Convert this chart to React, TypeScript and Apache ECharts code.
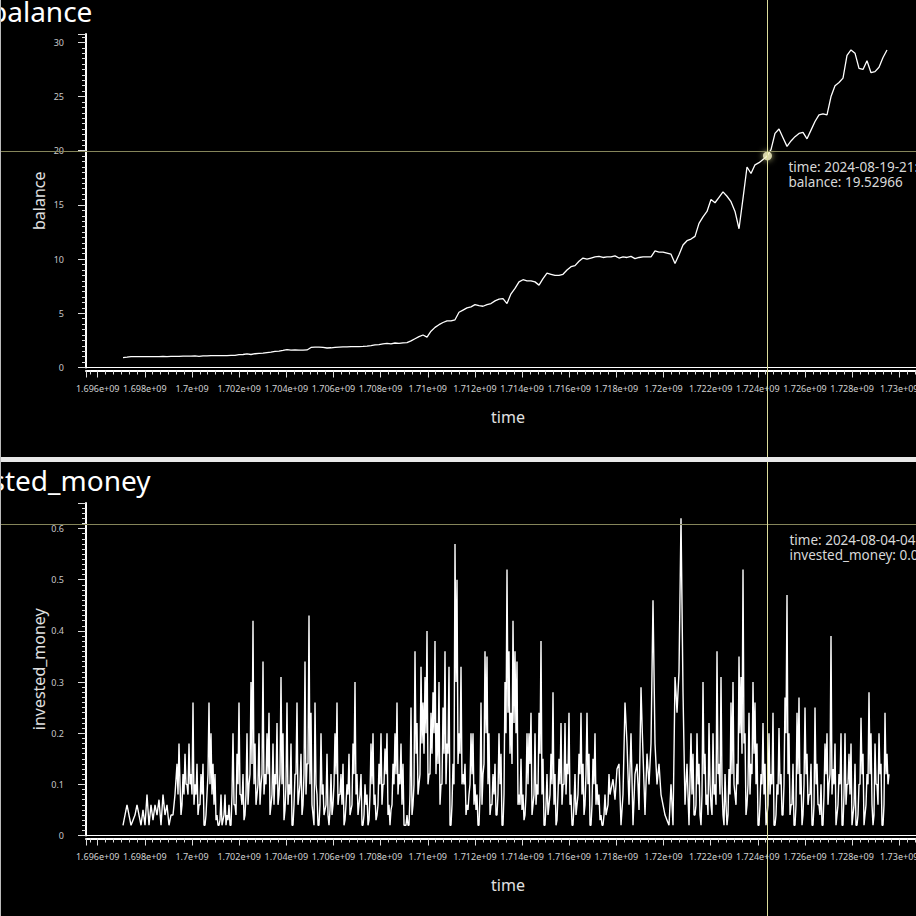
import React, { useEffect, useRef } from "react";
import * as echarts from "echarts";

// ---- data ----
const T0 = 1697073200; // first sample time (unix seconds)
const BALANCE_STEP = 169671; // seconds between balance samples
const INVESTED_STEP = 84836; // seconds between main invested_money samples

const balance = [
  0.92, 0.95, 1.0, 1.0, 1.0, 1.0, 1.0, 1.0, 1.0, 1.0,
  1.02, 1.0, 1.02, 1.02, 1.03, 1.05, 1.05, 1.05, 1.08, 1.03,
  1.08, 1.08, 1.1, 1.1, 1.1, 1.1, 1.1, 1.12, 1.12, 1.18,
  1.2, 1.25, 1.2, 1.27, 1.3, 1.32, 1.38, 1.42, 1.48, 1.52,
  1.58, 1.65, 1.6, 1.62, 1.6, 1.6, 1.62, 1.85, 1.88, 1.88,
  1.85, 1.8, 1.82, 1.85, 1.88, 1.9, 1.9, 1.92, 1.92, 1.93,
  1.95, 1.98, 2.02, 2.08, 2.12, 2.18, 2.22, 2.18, 2.26, 2.22,
  2.28, 2.3, 2.45, 2.65, 2.85, 3.0, 2.8, 3.35, 3.7, 3.95,
  4.15, 4.3, 4.3, 4.4, 5.1, 5.3, 5.5, 5.6, 5.8, 5.7,
  5.65, 5.8, 5.9, 6.15, 6.3, 6.35, 5.9, 6.8, 7.3, 7.9,
  8.1, 8.0, 8.0, 7.9, 7.6, 8.2, 8.7, 8.6, 8.5, 8.5,
  8.6, 9.0, 9.3, 9.4, 9.8, 10.1, 10.0, 10.1, 10.2, 10.25,
  10.15, 10.2, 10.2, 10.3, 10.1, 10.2, 10.15, 10.25, 10.05, 10.15,
  10.2, 10.2, 10.2, 10.75, 10.65, 10.65, 10.55, 10.45, 9.6, 10.4,
  11.3, 11.7, 11.85, 12.1, 13.3, 13.9, 14.4, 15.5, 15.2, 15.7,
  16.2, 15.8, 15.3, 14.4, 12.8, 15.6, 18.5, 17.9, 18.7, 18.9,
  19.2, 19.5, 20.1, 21.6, 22.0, 21.2, 20.4, 20.9, 21.3, 21.6,
  21.7, 21.1, 21.9, 22.7, 23.3, 23.4, 23.3, 25.0, 26.0, 26.3,
  26.7, 28.8, 29.3, 29.0, 27.6, 27.5, 28.3, 27.2, 27.3, 27.7,
  28.6, 29.3,
];

// invested_money at the main sample times
const investedMoney = [
  0.02, 0.04, 0.06, 0.04, 0.02, 0.03, 0.04, 0.06, 0.04, 0.02, 0.05, 0.02, 0.08, 0.02,
  0.06, 0.03, 0.06, 0.04, 0.07, 0.02, 0.08, 0.04, 0.06, 0.02, 0.04, 0.04, 0.08,
  0.14, 0.18, 0.04, 0.12, 0.16, 0.1, 0.18, 0.12, 0.26, 0.1, 0.14, 0.06, 0.12, 0.14,
  0.02, 0.08, 0.26, 0.2, 0.14, 0.12, 0.04, 0.02, 0.08, 0.03, 0.08, 0.04, 0.06, 0.02,
  0.2, 0.06, 0.16, 0.26, 0.08, 0.12, 0.04, 0.2, 0.1, 0.3, 0.42, 0.18, 0.08, 0.2, 0.1,
  0.34, 0.12, 0.2, 0.24, 0.06, 0.18, 0.12, 0.22, 0.08, 0.31, 0.2, 0.05, 0.26, 0.1, 0.18,
  0.02, 0.12, 0.26, 0.08, 0.16, 0.06, 0.34, 0.14, 0.43,
  0.24, 0.04, 0.26, 0.08, 0.02, 0.2, 0.1, 0.05, 0.16, 0.02, 0.12, 0.06, 0.2, 0.26, 0.08,
  0.12, 0.14, 0.03, 0.1, 0.16, 0.05, 0.18, 0.3, 0.12, 0.06, 0.12, 0.02, 0.1, 0.08, 0.03,
  0.18, 0.2, 0.08, 0.04, 0.14, 0.2, 0.1, 0.17, 0.2, 0.06, 0.05, 0.14, 0.2, 0.26, 0.12,
  0.18, 0.14, 0.02, 0.04, 0.02,
  0.25, 0.06, 0.36, 0.22, 0.1, 0.33, 0.26, 0.31, 0.4, 0.12, 0.24, 0.28, 0.38, 0.22, 0.3,
  0.1, 0.25, 0.36, 0.18, 0.33, 0.02, 0.14, 0.57, 0.5, 0.2, 0.33, 0.12, 0.14, 0.06, 0.08,
  0.2, 0.2, 0.1, 0.08, 0.02, 0.26, 0.12, 0.36, 0.35, 0.2, 0.06, 0.12, 0.14, 0.04, 0.2,
  0.16, 0.02, 0.3, 0.52, 0.36,
  0.24, 0.42, 0.36, 0.34, 0.08, 0.15, 0.08, 0.04, 0.2, 0.2, 0.24, 0.06, 0.2, 0.1, 0.24,
  0.38, 0.15, 0.02, 0.12, 0.06, 0.16, 0.28, 0.12, 0.03, 0.15, 0.22, 0.1, 0.22, 0.14, 0.24,
  0.08, 0.02, 0.12, 0.06, 0.16, 0.24, 0.14, 0.06, 0.24, 0.16, 0.02, 0.15, 0.2, 0.1, 0.08,
  0.04, 0.02, 0.08, 0.05, 0.12,
  0.09, 0.11, 0.07, 0.13, 0.14, 0.02, 0.08, 0.26, 0.18, 0.06, 0.2, 0.02, 0.12, 0.14, 0.05,
  0.29, 0.16, 0.04, 0.16, 0.1, 0.18, 0.46, 0.18, 0.1, 0.14, 0.08, 0.06, 0.04, 0.03, 0.02,
  0.1, 0.02, 0.31, 0.24, 0.32, 0.62, 0.28, 0.06, 0.14, 0.02, 0.2, 0.16, 0.04, 0.2, 0.14,
  0.02, 0.3, 0.16, 0.08, 0.22,
  0.06, 0.2, 0.1, 0.36, 0.14, 0.31, 0.04, 0.12, 0.02, 0.13, 0.26, 0.3, 0.08, 0.14, 0.35,
  0.31, 0.52, 0.2, 0.06, 0.24, 0.14, 0.3, 0.26, 0.18, 0.02, 0.12, 0.22, 0.14, 0.04, 0.2,
  0.12, 0.24, 0.02, 0.1, 0.21, 0.12, 0.04, 0.27, 0.47, 0.2, 0.06, 0.14, 0.02, 0.24, 0.27,
  0.12, 0.04, 0.25, 0.16, 0.08,
  0.14, 0.02, 0.25, 0.14, 0.06, 0.1, 0.02, 0.18, 0.2, 0.1, 0.39, 0.13, 0.18, 0.04, 0.12,
  0.2, 0.02, 0.2, 0.1, 0.16, 0.18, 0.04, 0.14, 0.02, 0.1, 0.23, 0.16, 0.04, 0.12, 0.28,
  0.2, 0.02, 0.18, 0.1, 0.2, 0.14, 0.02, 0.24, 0.16, 0.12,
];

// invested_money at the half-step samples (the dips between main samples)
const investedMoneyHalf = [
  0.03, 0.05, 0.05, 0.03, 0.025, 0.035, 0.05, 0.05, 0.03, 0.035, 0.035, 0.05, 0.05, 0.04,
  0.045, 0.045, 0.05, 0.055, 0.045, 0.05, 0.06, 0.05, 0.04, 0.03, 0.04, 0.06, 0.11,
  0.08, 0.1, 0.06, 0.08, 0.1, 0.08, 0.1, 0.08, 0.06, 0.08, 0.04, 0.06, 0.08, 0.02,
  0.04, 0.12, 0.1, 0.08, 0.06, 0.03, 0.02, 0.03, 0.02, 0.04, 0.02, 0.03, 0.02, 0.08,
  0.06, 0.04, 0.1, 0.08, 0.06, 0.03, 0.08, 0.06, 0.12, 0.14, 0.1, 0.06, 0.1, 0.06, 0.12,
  0.08, 0.1, 0.12, 0.04, 0.08, 0.06, 0.1, 0.06, 0.12, 0.1, 0.03, 0.1, 0.06, 0.08, 0.02,
  0.06, 0.12, 0.06, 0.1, 0.04, 0.12, 0.08, 0.14, 0.1,
  0.06, 0.02, 0.1, 0.02, 0.06, 0.08, 0.04, 0.06, 0.04, 0.05,
  0.04, 0.1, 0.12, 0.06, 0.08, 0.06, 0.02, 0.06, 0.08, 0.04,
  0.06, 0.12, 0.08, 0.04, 0.08, 0.02, 0.04, 0.06, 0.02, 0.08,
  0.1, 0.06, 0.03, 0.06, 0.1, 0.06, 0.1, 0.12, 0.04, 0.02,
  0.06, 0.1, 0.12, 0.08, 0.1, 0.06, 0.02, 0.02, 0.02, 0.08,
  0.04, 0.1, 0.16, 0.08, 0.12, 0.18, 0.16, 0.2, 0.1, 0.12,
  0.16, 0.2, 0.12, 0.14, 0.06, 0.1, 0.16, 0.1, 0.16, 0.02,
  0.06, 0.1, 0.3, 0.14, 0.16, 0.1, 0.1, 0.04, 0.05, 0.1,
  0.12, 0.06, 0.05, 0.02, 0.08, 0.06, 0.14, 0.2, 0.1, 0.04,
  0.06, 0.08, 0.04, 0.08, 0.1, 0.02, 0.08, 0.2, 0.24, 0.16,
  0.14, 0.22, 0.2, 0.06, 0.06, 0.05, 0.03, 0.08, 0.1, 0.14,
  0.04, 0.08, 0.06, 0.08, 0.16, 0.08, 0.02, 0.06, 0.04, 0.08,
  0.1, 0.06, 0.02, 0.08, 0.1, 0.06, 0.1, 0.08, 0.12, 0.06,
  0.02, 0.06, 0.04, 0.08, 0.12, 0.08, 0.04, 0.12, 0.1, 0.02,
  0.06, 0.1, 0.06, 0.06, 0.03, 0.02, 0.04, 0.04, 0.06, 0.08,
  0.1, 0.09, 0.1, 0.135, 0.08, 0.05, 0.17, 0.22, 0.12, 0.13,
  0.11, 0.07, 0.13, 0.1, 0.17, 0.22, 0.1, 0.1, 0.13, 0.14,
  0.32, 0.32, 0.14, 0.12, 0.11, 0.07, 0.05, 0.035, 0.025, 0.06,
  0.06, 0.16, 0.28, 0.28, 0.47, 0.45, 0.17, 0.1, 0.08, 0.11,
  0.08, 0.04, 0.06, 0.1, 0.04, 0.08, 0.12, 0.06, 0.04, 0.1,
  0.04, 0.08, 0.06, 0.12, 0.08, 0.1, 0.02, 0.06, 0.04, 0.08,
  0.12, 0.1, 0.06, 0.1, 0.2, 0.16, 0.18, 0.04, 0.1, 0.08,
  0.12, 0.16, 0.1, 0.02, 0.06, 0.1, 0.08, 0.02, 0.06, 0.08,
  0.1, 0.02, 0.04, 0.08, 0.1, 0.04, 0.1, 0.2, 0.12, 0.04,
  0.06, 0.02, 0.06, 0.12, 0.08, 0.02, 0.1, 0.12, 0.06, 0.08,
  0.02, 0.06, 0.1, 0.06, 0.04, 0.02, 0.08, 0.12, 0.06, 0.12,
  0.08, 0.1, 0.02, 0.06, 0.1, 0.02, 0.08, 0.06, 0.1, 0.08,
  0.02, 0.06, 0.02, 0.04, 0.1, 0.12, 0.02, 0.06, 0.1, 0.12,
  0.06, 0.04, 0.1, 0.06, 0.12, 0.02, 0.06, 0.12, 0.1,
];

// axis extents
const X_MIN = 1695503700;
const X_MAX = 1731304300;
const BAL_MAX = 30.77;
const INV_MAX = 0.65;

// cursor / hover state shown in the picture
const CURSOR_TIME = 1724410000;
const CURSOR_BALANCE = 19.97;
const CURSOR_INVESTED = 0.608;
const HOVER_BALANCE = 19.52966;
const TOOLTIP_TOP = ["time: 2024-08-19-21:00:00", "balance: 19.52966"];
const TOOLTIP_BOTTOM = ["time: 2024-08-04-04:00:00", "invested_money: 0.0524"];
const TITLES = ["balance", "invested_money"];

const FONT = "'Noto Sans', 'Open Sans', sans-serif";

const sci = (v: number) => {
  let s = (v / 1e9).toPrecision(4);
  s = s.replace(/\.?0+$/, "");
  return s + "e+09";
};

function xAxisCfg(gridIndex: number) {
  return {
    type: "value",
    gridIndex,
    min: X_MIN,
    max: X_MAX,
    splitNumber: 18,
    offset: 3,
    name: "time",
    nameLocation: "middle",
    nameGap: 38,
    nameMoveOverlap: false,
    nameTextStyle: { color: "#e0e0e0", fontSize: 16, fontFamily: FONT },
    axisLine: { show: true, onZero: false, lineStyle: { color: "#ffffff", width: 2 } },
    axisTick: { show: true, length: 7, lineStyle: { color: "#dddddd", width: 1 } },
    minorTick: { show: true, splitNumber: 6, length: 4, lineStyle: { color: "#dddddd", width: 1 } },
    axisLabel: {
      color: "#d0d0d0",
      fontSize: 9,
      fontFamily: FONT,
      margin: 13,
      showMinLabel: false,
      showMaxLabel: false,
      formatter: sci,
    },
    splitLine: { show: false },
  };
}

function yAxisCfg(gridIndex: number, max: number, name: string) {
  return {
    type: "value",
    gridIndex,
    min: 0,
    max,
    splitNumber: 6,
    name,
    nameLocation: "middle",
    nameGap: 39,
    nameMoveOverlap: false,
    nameTextStyle: { color: "#e0e0e0", fontSize: 16, fontFamily: FONT },
    axisLine: { show: true, lineStyle: { color: "#ffffff", width: 2 } },
    axisTick: { show: true, length: 8, lineStyle: { color: "#dddddd", width: 1 } },
    minorTick: { show: true, splitNumber: 10, length: 4, lineStyle: { color: "#dddddd", width: 1 } },
    axisLabel: {
      color: "#c8c8c8",
      fontSize: 9,
      fontFamily: FONT,
      margin: 22,
      showMaxLabel: false,
    },
    splitLine: { show: false },
  };
}

const zeroLine = {
  silent: true,
  symbol: "none",
  label: { show: false },
  lineStyle: { color: "#ffffff", width: 1, type: "solid" },
  data: [{ yAxis: 0 }],
};

export default function App() {
  const ref = useRef<HTMLDivElement>(null);

  useEffect(() => {
    if (!ref.current) return;
    const chart = echarts.init(ref.current, undefined, { renderer: "svg" });

    const balanceData = balance.map((v, i) => [T0 + i * BALANCE_STEP, v]);
    const investedData: number[][] = [];
    investedMoney.forEach((v, i) => {
      investedData.push([T0 + i * INVESTED_STEP, v]);
      if (i < investedMoneyHalf.length) {
        investedData.push([T0 + i * INVESTED_STEP + INVESTED_STEP / 2, investedMoneyHalf[i]]);
      }
    });

    chart.setOption({
      animation: false,
      backgroundColor: "#000000",
      grid: [
        { left: 86, right: 30, top: 34, bottom: 548.5 },
        { left: 86, right: 30, top: 503, bottom: 80.5 },
      ],
      xAxis: [xAxisCfg(0), xAxisCfg(1)],
      yAxis: [yAxisCfg(0, BAL_MAX, "balance"), yAxisCfg(1, INV_MAX, "invested_money")],
      series: [
        {
          type: "line",
          xAxisIndex: 0,
          yAxisIndex: 0,
          data: balanceData,
          showSymbol: false,
          lineStyle: { color: "#ffffff", width: 1.3 },
          itemStyle: { color: "#ffffff" },
          markLine: zeroLine,
          z: 3,
        },
        {
          type: "line",
          xAxisIndex: 1,
          yAxisIndex: 1,
          data: investedData,
          showSymbol: false,
          lineStyle: { color: "#ffffff", width: 1.4 },
          itemStyle: { color: "#ffffff" },
          markLine: zeroLine,
          z: 3,
        },
        {
          type: "scatter",
          xAxisIndex: 0,
          yAxisIndex: 0,
          data: [[CURSOR_TIME, HOVER_BALANCE]],
          symbol: "circle",
          symbolSize: 9,
          itemStyle: {
            color: "#f6f2c4",
            shadowBlur: 6,
            shadowColor: "rgba(255,255,170,0.9)",
          },
          z: 20,
        },
      ],
    });

    const px = chart.convertToPixel({ xAxisIndex: 0 }, CURSOR_TIME) as number;
    const pyTop = chart.convertToPixel({ yAxisIndex: 0 }, CURSOR_BALANCE) as number;
    const pyBot = chart.convertToPixel({ yAxisIndex: 1 }, CURSOR_INVESTED) as number;

    const tipText = (text: string, x: number, y: number) => ({
      type: "text",
      z: 30,
      style: {
        text,
        x,
        y,
        fill: "#d8d8d8",
        font: `13.5px ${FONT}`,
        align: "left",
        verticalAlign: "middle",
      },
    });

    chart.setOption({
      graphic: [
        {
          type: "text",
          z: 30,
          style: {
            text: TITLES[0],
            x: -10,
            y: 10.6,
            fill: "#ffffff",
            font: `28px ${FONT}`,
            verticalAlign: "middle",
          },
        },
        {
          type: "text",
          z: 30,
          style: {
            text: TITLES[1],
            x: -63,
            y: 479.7,
            fill: "#ffffff",
            font: `28px ${FONT}`,
            verticalAlign: "middle",
          },
        },
        {
          type: "line",
          z: 25,
          shape: { x1: 0, y1: Math.round(pyTop) + 0.5, x2: 960, y2: Math.round(pyTop) + 0.5 },
          style: { stroke: "#85855a", lineWidth: 1 },
        },
        {
          type: "line",
          z: 25,
          shape: { x1: 0, y1: Math.round(pyBot) + 0.5, x2: 960, y2: Math.round(pyBot) + 0.5 },
          style: { stroke: "#85855a", lineWidth: 1 },
        },
        {
          type: "line",
          z: 26,
          shape: { x1: Math.round(px) + 0.5, y1: 0, x2: Math.round(px) + 0.5, y2: 916 },
          style: { stroke: "#dcdc9c", lineWidth: 1 },
        },
        tipText(TOOLTIP_TOP[0], px + 21, pyTop + 15.5),
        tipText(TOOLTIP_TOP[1], px + 21, pyTop + 30.5),
        tipText(TOOLTIP_BOTTOM[0], px + 22, pyBot + 15.5),
        tipText(TOOLTIP_BOTTOM[1], px + 22, pyBot + 30.5),
        {
          type: "rect",
          z: 40,
          shape: { x: 0, y: 457, width: 960, height: 5 },
          style: { fill: "#e8e8e8" },
        },
        {
          type: "rect",
          z: 40,
          shape: { x: 0, y: 0, width: 1, height: 916 },
          style: { fill: "#bbbbbb" },
        },
      ],
    });

    return () => {
      chart.dispose();
    };
  }, []);

  return (
    <div
      style={{
        position: "fixed",
        left: 0,
        top: 0,
        width: 916,
        height: 916,
        overflow: "hidden",
        background: "#000000",
      }}
    >
      <div ref={ref} style={{ width: 960, height: 916 }} />
    </div>
  );
}
